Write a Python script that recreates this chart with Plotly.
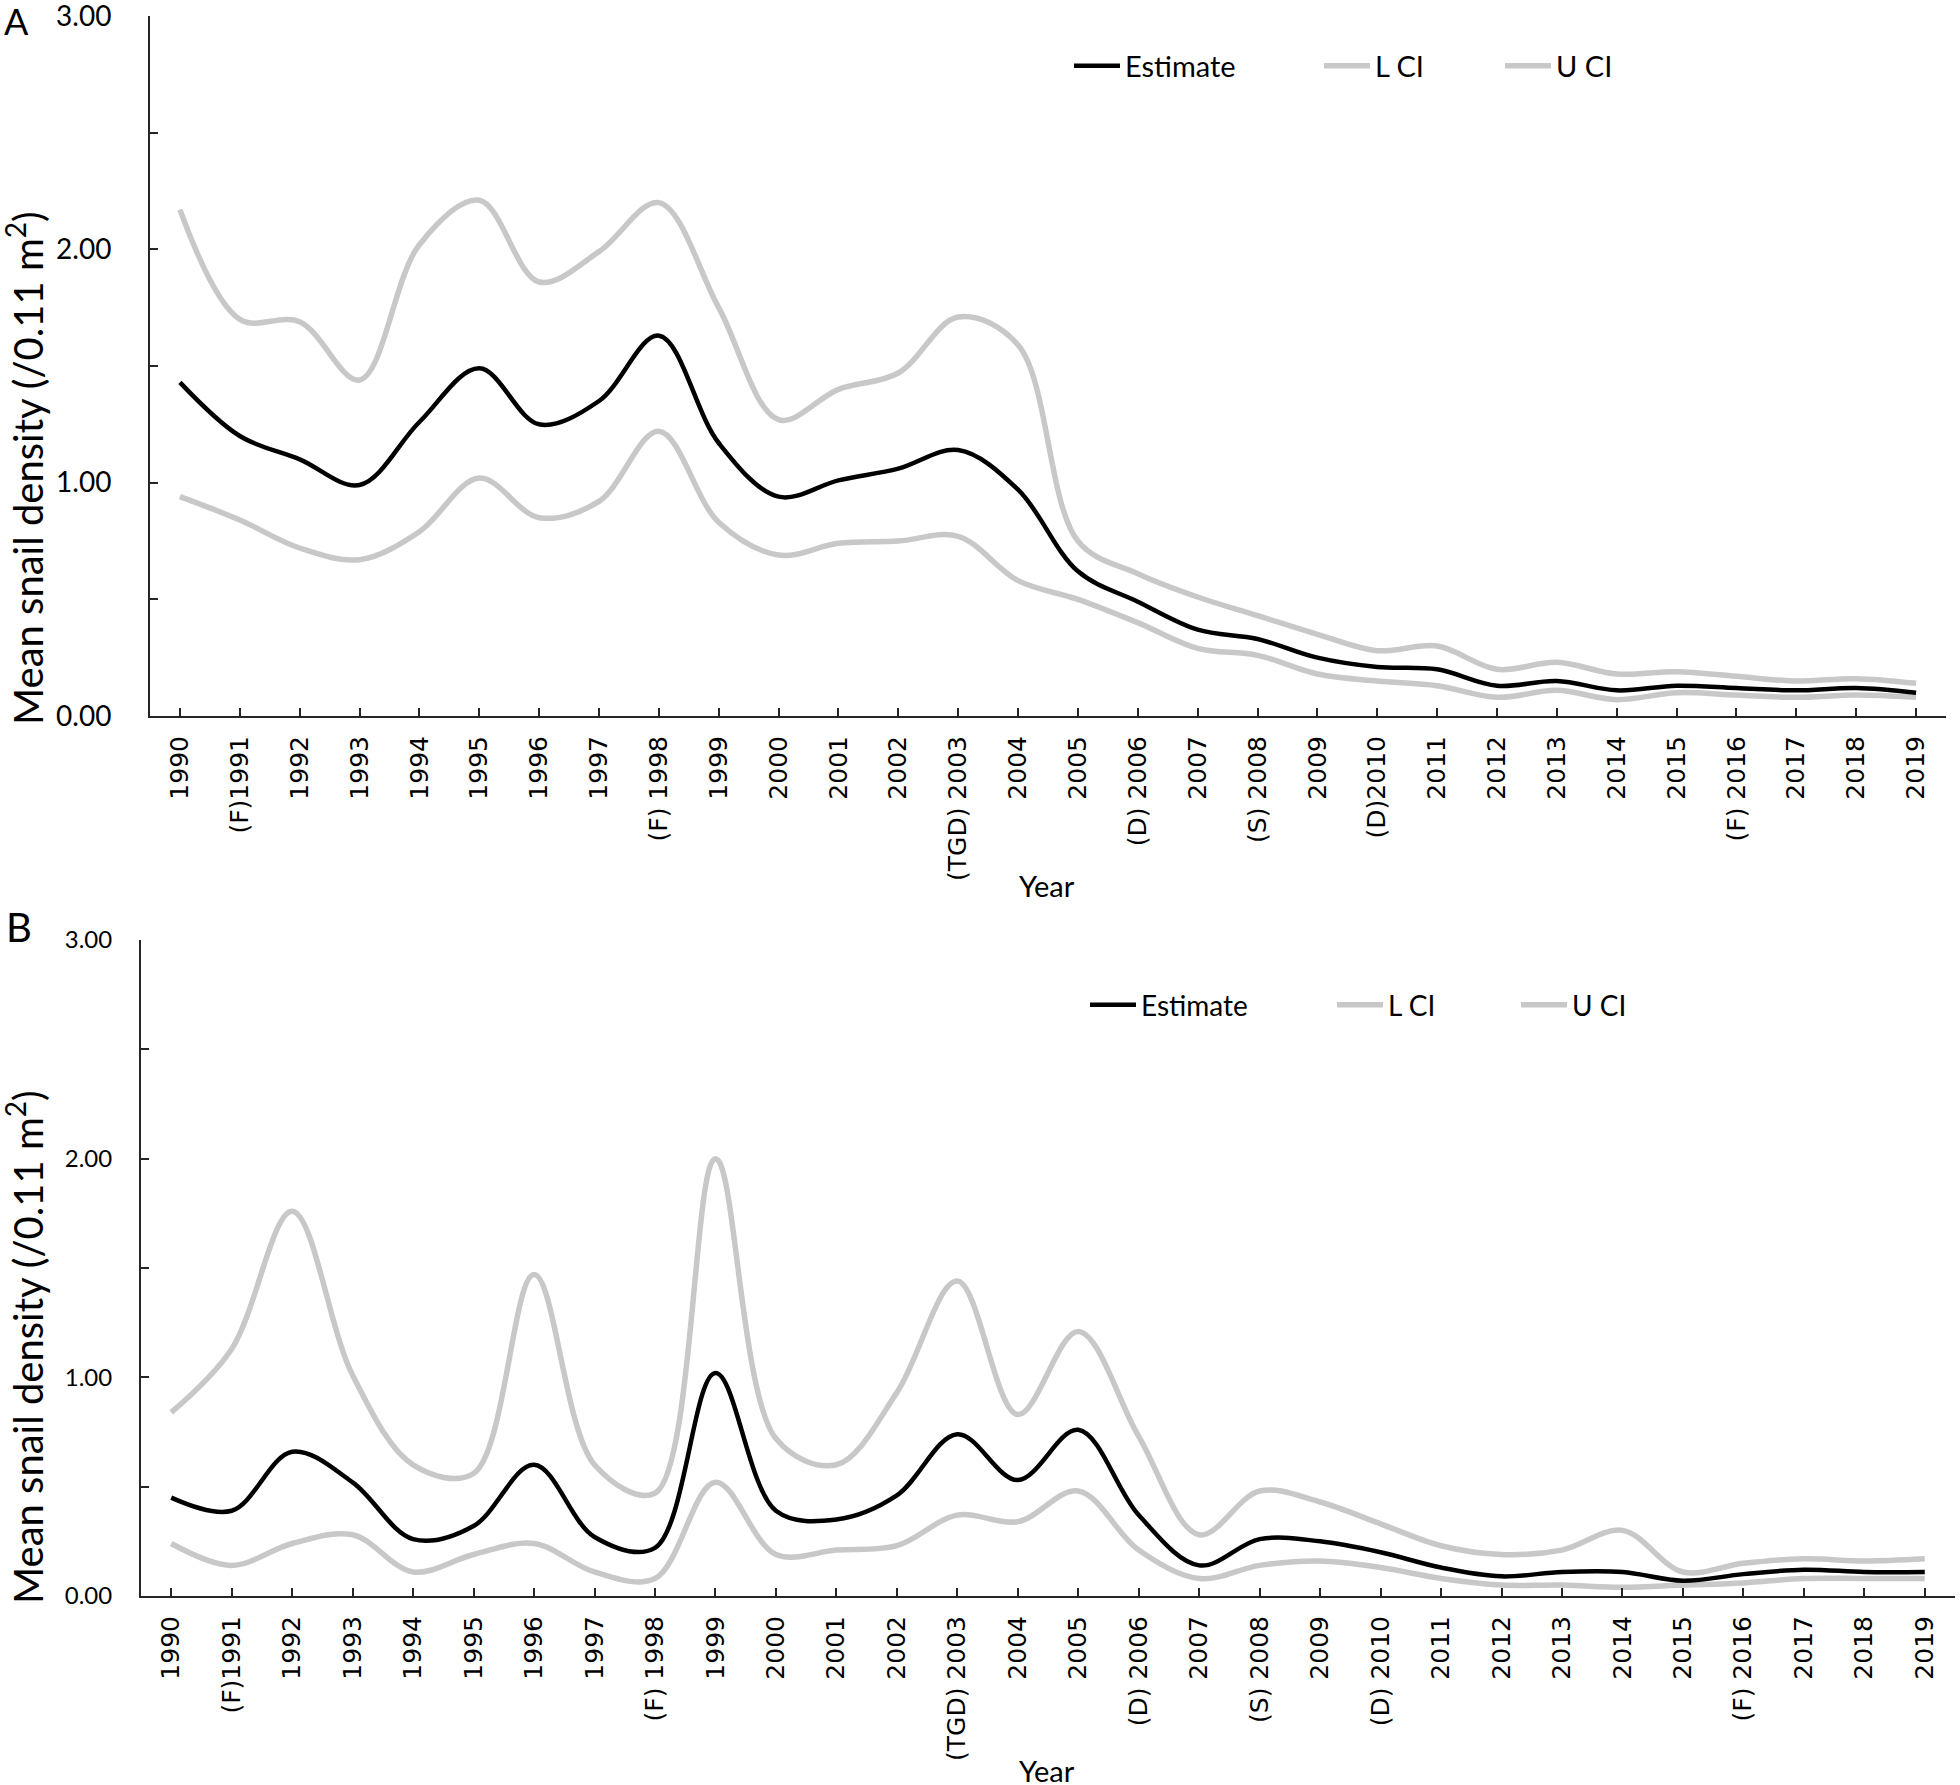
import plotly.graph_objects as go

W, H = 1960, 1785

# ── Data ────────────────────────────────────────────────────────────────
years_a = ["1990", "(F)1991", "1992", "1993", "1994", "1995", "1996", "1997",
           "(F) 1998", "1999", "2000", "2001", "2002", "(TGD) 2003", "2004",
           "2005", "(D) 2006", "2007", "(S) 2008", "2009", "(D)2010", "2011",
           "2012", "2013", "2014", "2015", "(F) 2016", "2017", "2018", "2019"]
years_b = ["1990", "(F)1991", "1992", "1993", "1994", "1995", "1996", "1997",
           "(F) 1998", "1999", "2000", "2001", "2002", "(TGD) 2003", "2004",
           "2005", "(D) 2006", "2007", "(S) 2008", "2009", "(D) 2010", "2011",
           "2012", "2013", "2014", "2015", "(F) 2016", "2017", "2018", "2019"]

est_a = [1.43, 1.20, 1.10, 0.99, 1.26, 1.49, 1.25, 1.35, 1.63, 1.17,
         0.94, 1.01, 1.06, 1.14, 0.97, 0.62, 0.49, 0.37, 0.33, 0.25,
         0.21, 0.20, 0.13, 0.15, 0.11, 0.13, 0.12, 0.11, 0.12, 0.10]
lci_a = [0.94, 0.84, 0.72, 0.67, 0.79, 1.02, 0.85, 0.92, 1.22, 0.83,
         0.69, 0.74, 0.75, 0.77, 0.58, 0.50, 0.40, 0.29, 0.26, 0.18,
         0.15, 0.13, 0.08, 0.11, 0.07, 0.10, 0.09, 0.08, 0.09, 0.08]
uci_a = [2.17, 1.70, 1.69, 1.44, 2.02, 2.21, 1.86, 1.99, 2.20, 1.75,
         1.27, 1.40, 1.47, 1.71, 1.59, 0.75, 0.61, 0.51, 0.43, 0.35,
         0.28, 0.30, 0.20, 0.23, 0.18, 0.19, 0.17, 0.15, 0.16, 0.14]

est_b = [0.45, 0.39, 0.66, 0.52, 0.26, 0.32, 0.60, 0.27, 0.22, 1.02,
         0.39, 0.35, 0.46, 0.74, 0.53, 0.76, 0.37, 0.14, 0.26, 0.25,
         0.20, 0.13, 0.09, 0.11, 0.11, 0.07, 0.10, 0.12, 0.11, 0.11]
lci_b = [0.24, 0.14, 0.24, 0.28, 0.11, 0.19, 0.24, 0.11, 0.08, 0.52,
         0.19, 0.21, 0.23, 0.37, 0.34, 0.48, 0.21, 0.08, 0.14, 0.16,
         0.13, 0.08, 0.05, 0.05, 0.04, 0.05, 0.06, 0.08, 0.08, 0.08]
uci_b = [0.84, 1.13, 1.76, 1.01, 0.60, 0.56, 1.47, 0.60, 0.47, 2.00,
         0.72, 0.60, 0.93, 1.44, 0.83, 1.21, 0.73, 0.28, 0.48, 0.43,
         0.33, 0.23, 0.19, 0.21, 0.30, 0.11, 0.15, 0.17, 0.16, 0.17]

Y_TITLE = "Mean snail density (/0.11 m<sup>2</sup>)"

# ── Style ───────────────────────────────────────────────────────────────
BLACK = "#000000"
GREY = "#c8c8c8"
AXIS = "#262626"
CAL = "Lato"


def px_x(v):
    return v / W


def px_y(v):
    return 1 - v / H


fig = go.Figure()


def add_panel(years, est, lci, uci, xa, ya, legend, widths):
    fig.add_trace(go.Scatter(
        x=years, y=lci, name="L CI", mode="lines", xaxis=xa, yaxis=ya,
        line=dict(color=GREY, width=5.5, shape="spline", smoothing=1),
        legend=legend, legendrank=2, legendwidth=widths[1],
    ))
    fig.add_trace(go.Scatter(
        x=years, y=uci, name="U CI", mode="lines", xaxis=xa, yaxis=ya,
        line=dict(color=GREY, width=5.5, shape="spline", smoothing=1),
        legend=legend, legendrank=3, legendwidth=60,
    ))
    fig.add_trace(go.Scatter(
        x=years, y=est, name="Estimate", mode="lines", xaxis=xa, yaxis=ya,
        line=dict(color=BLACK, width=4.5, shape="spline", smoothing=1),
        legend=legend, legendrank=1, legendwidth=widths[0],
    ))


add_panel(years_a, est_a, lci_a, uci_a, "x", "y", "legend", (189, 120))
add_panel(years_b, est_b, lci_b, uci_b, "x2", "y2", "legend2", (186, 123))


def xaxis_style(domain, anchor):
    return dict(
        domain=domain, anchor=anchor, type="category", range=[-0.5, 29.5],
        automargin=False,
        showline=True, linecolor=AXIS, linewidth=2, mirror=False,
        ticks="inside", ticklen=8, tickwidth=1.5, tickcolor=AXIS,
        tickangle=-90, ticklabelstandoff=8,
        tickfont=dict(family="DejaVu Sans", size=25, color="black"),
        showgrid=False, zeroline=False,
    )


def yaxis_style(domain, anchor, fsize, standoff):
    return dict(
        domain=domain, anchor=anchor, range=[0, 3], dtick=1, tickformat=".2f",
        automargin=False, ticklabeloverflow="allow",
        showline=True, linecolor=AXIS, linewidth=2,
        ticks="inside", ticklen=8, tickwidth=1.5, tickcolor=AXIS,
        minor=dict(dtick=0.5, ticks="inside", ticklen=8, tickwidth=1.5, tickcolor=AXIS),
        ticklabelstandoff=standoff,
        tickfont=dict(family=CAL, size=fsize, color="black"),
        showgrid=False, zeroline=False,
    )


def legend_style(x, y, fsize):
    return dict(
        orientation="h", x=px_x(x), y=px_y(y), xanchor="left", yanchor="middle",
        font=dict(family=CAL, size=fsize, color="black"),
        bgcolor="rgba(0,0,0,0)", borderwidth=0, itemwidth=46,
    )


fig.update_layout(
    width=W, height=H,
    margin=dict(l=0, r=0, t=0, b=0, autoexpand=False),
    paper_bgcolor="white", plot_bgcolor="white",
    xaxis=xaxis_style([px_x(150), px_x(1946)], "y"),
    yaxis=yaxis_style([px_y(716), px_y(16)], "x", 28, 31),
    xaxis2=xaxis_style([px_x(141), px_x(1955)], "y2"),
    yaxis2=yaxis_style([px_y(1596), px_y(940)], "x2", 24, 22),
    legend=legend_style(1069, 66, 29),
    legend2=legend_style(1085, 1005, 28),
    showlegend=True,
)

# Panel letters and axis titles
annots = [
    dict(text="A", x=px_x(16), y=px_y(21), font=dict(family=CAL, size=36)),
    dict(text="B", x=px_x(19), y=px_y(927), font=dict(family=CAL, size=40)),
    dict(text=Y_TITLE, x=px_x(25), y=px_y(468), textangle=-90, font=dict(family=CAL, size=40)),
    dict(text=Y_TITLE, x=px_x(25), y=px_y(1347), textangle=-90, font=dict(family=CAL, size=40)),
    dict(text="Year", x=px_x(1047), y=px_y(885), font=dict(family=CAL, size=29)),
    dict(text="Year", x=px_x(1047), y=px_y(1770), font=dict(family=CAL, size=29)),
]
for a in annots:
    a["font"]["color"] = "black"
    fig.add_annotation(xref="paper", yref="paper", showarrow=False,
                       xanchor="center", yanchor="middle", **a)

fig.write_html("out.html", config={"displayModeBar": False},
               post_script="document.body.style.margin='0';")
